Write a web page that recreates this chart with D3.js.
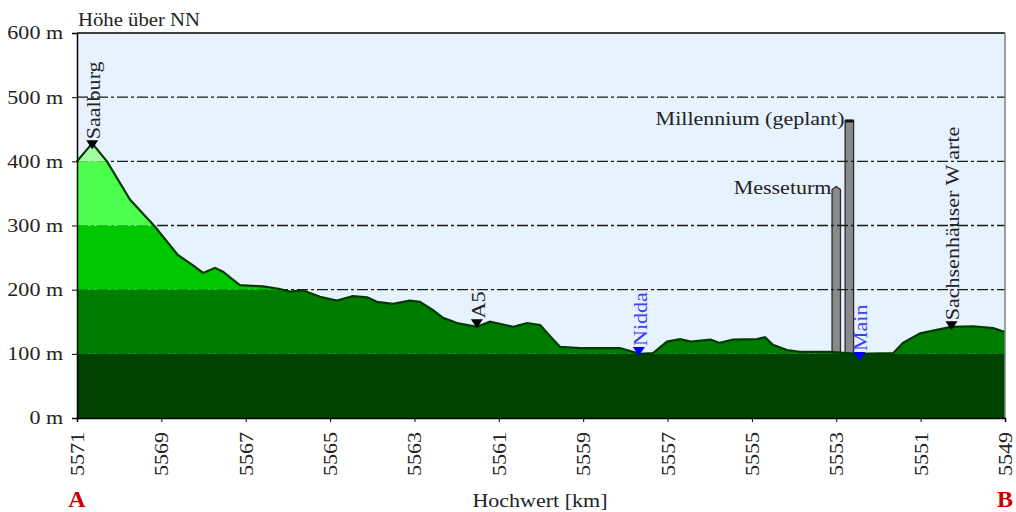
<!DOCTYPE html>
<html>
<head>
<meta charset="utf-8">
<script src="https://cdn.jsdelivr.net/npm/d3@7"></script>
<style>
  body { margin: 0; background: #fff; }
  svg text { font-family: "Liberation Serif", "Times New Roman", serif; }
</style>
</head>
<body>
<div id="chart"></div>
<script>
// Data read from the profile
const kmTicks = [5571, 5569, 5567, 5565, 5563, 5561, 5559, 5557, 5555, 5553, 5551, 5549];
const elevTicks = [0, 100, 200, 300, 400, 500, 600];
const gridElev = [100, 200, 300, 400, 500];
const bandFloors = [0, 100, 200, 300, 400];

const profileKm = [5571.00, 5570.64, 5570.29, 5569.74, 5569.15, 5568.61, 5568.25, 5568.01, 5567.73, 5567.54,
  5567.14, 5566.59, 5566.19, 5565.95, 5565.64, 5565.24, 5564.84, 5564.46, 5564.12, 5563.89,
  5563.51, 5563.11, 5562.87, 5562.56, 5562.32, 5561.99, 5561.52, 5561.21, 5560.66, 5560.33,
  5560.02, 5559.79, 5559.55, 5559.07, 5558.13, 5557.82, 5557.65, 5557.34, 5557.18, 5557.01,
  5556.70, 5556.45, 5555.98, 5555.76, 5555.45, 5554.88, 5554.69, 5554.50, 5554.17, 5553.86,
  5553.15, 5552.51, 5551.65, 5551.42, 5551.01, 5550.28, 5549.76, 5549.28, 5549.00];
const profileElev = [400, 428, 400, 340, 298, 254, 238, 226, 234, 228,
  207, 205, 201, 197, 199, 189, 183, 190, 188, 181,
  178, 183, 181, 168, 156, 148, 142, 150, 142, 148,
  145, 128, 111, 109, 109, 103, 100, 101, 110, 119,
  123, 119, 122, 117, 122, 123, 126, 114, 106, 103,
  103, 100, 101, 117, 132, 142, 143, 140, 134];

const markerNames = ["Saalburg", "A5", "Nidda", "Main", "Sachsenhäuser W arte"];
const markerKm = [5570.64, 5561.52, 5557.68, 5552.45, 5550.27];
const markerElev = [425, 146, 103, 95, 143];
const markerKind = ["ort", "ort", "fluss", "fluss", "ort"];

const towerNames = ["Messeturm", "Millennium (geplant)"];
const towerKm = [5553.0, 5552.69];
const towerTop = [356, 463];
const towerBase = 100;

function pageLoad() {

// Set the dimensions and margins of the graph
const margin = { top: 33, right: 11, bottom: 94, left: 77 };
const width = 1016 - margin.left - margin.right;
const height = 512 - margin.top - margin.bottom;

const fs = 18.5;   // font size
const k = 1.19;    // horizontal stretch of the text

function stretch(sel, f) {
  sel.each(function () {
    const w = this.getComputedTextLength();
    d3.select(this).attr("textLength", w * f).attr("lengthAdjust", "spacingAndGlyphs");
  });
}

const svg = d3.select("#chart")
  .append("svg")
    .attr("width", width + margin.left + margin.right)
    .attr("height", height + margin.top + margin.bottom)
  .append("g")
    .attr("transform", "translate(" + margin.left + "," + margin.top + ")");

const x = d3.scaleLinear().domain([5571, 5549]).range([0, width]);
const y = d3.scaleLinear().domain([0, 600]).range([height, 0]);

// sky
svg.append("rect")
  .attr("width", width).attr("height", height)
  .attr("fill", "#e6f2fe");

// towers
const tw = x(5571) - x(5570.8);
towerNames.forEach(function (name, i) {
  const xc = x(towerKm[i]);
  const yt = y(towerTop[i]);
  const yb = y(towerBase);
  let d;
  if (i === 0) {
    d = `M${xc - tw / 2},${yb} L${xc - tw / 2},${yt} L${xc},${yt - 3} L${xc + tw / 2},${yt} L${xc + tw / 2},${yb} Z`;
  } else {
    d = `M${xc - tw / 2},${yb} L${xc - tw / 2},${yt} L${xc + tw / 2},${yt} L${xc + tw / 2},${yb} Z`;
  }
  svg.append("path")
    .attr("d", d)
    .attr("fill", "#8a8a8a")
    .attr("stroke", "#2a2a2a")
    .attr("stroke-width", 1.3);
  if (i === 1) {
    svg.append("line")
      .attr("x1", xc - tw / 2).attr("x2", xc + tw / 2)
      .attr("y1", yt).attr("y2", yt)
      .attr("stroke", "#111").attr("stroke-width", 3);
  }
  const t = svg.append("text")
    .attr("x", xc - tw / 2 - 9)
    .attr("y", yt + 4)
    .attr("text-anchor", "end")
    .style("font-size", fs + "px")
    .attr("fill", "#222")
    .text(name);
  stretch(t, k);
});

// grid lines
svg.append("g")
  .selectAll("line")
  .data(gridElev)
  .join("line")
    .attr("x1", 0).attr("x2", width)
    .attr("y1", d => y(d)).attr("y2", d => y(d))
    .attr("stroke", "#1a1a1a")
    .attr("stroke-width", 1.4)
    .attr("stroke-dasharray", "11,3,3,3");

// terrain: clip the elevation bands with the area under the profile
const profile = profileKm.map((km, i) => ({ km: km, elev: profileElev[i] }));
const area = d3.area()
  .x(d => x(d.km))
  .y0(height)
  .y1(d => y(d.elev));

svg.append("defs")
  .append("clipPath")
    .attr("id", "terrain")
  .append("path")
    .datum(profile)
    .attr("d", area);

const bandColor = d3.scaleOrdinal()
  .domain(bandFloors)
  .range(["#004300", "#007d00", "#00c800", "#4cff4c", "#a2ffa2"]);

svg.append("g")
  .attr("clip-path", "url(#terrain)")
  .selectAll("rect")
  .data(bandFloors)
  .join("rect")
    .attr("x", 0)
    .attr("width", width)
    .attr("y", d => y(d + 100))
    .attr("height", d => y(d) - y(d + 100))
    .attr("fill", d => bandColor(d));

svg.append("path")
  .datum(profile)
  .attr("fill", "none")
  .attr("stroke", "#033a03")
  .attr("stroke-width", 2.2)
  .attr("d", d3.line().x(d => x(d.km)).y(d => y(d.elev)));

// markers
markerNames.forEach(function (name, i) {
  const mx = x(markerKm[i]);
  const my = y(markerElev[i]);
  const river = markerKind[i] === "fluss";
  svg.append("path")
    .attr("d", `M${mx - 6},${my - 5} L${mx + 6},${my - 5} L${mx},${my + 4} Z`)
    .attr("fill", river ? "#0000ff" : "#000");
  const t = svg.append("text")
    .attr("transform", `translate(${mx + 8},${my - 6}) rotate(-90)`)
    .style("font-size", fs + "px")
    .attr("fill", river ? "#3c3cff" : "#222")
    .text(name);
  stretch(t, k);
});

// frame
svg.append("line")
  .attr("x1", 0).attr("x2", width).attr("y1", 0).attr("y2", 0)
  .attr("stroke", "#000").attr("stroke-width", 1.5);
svg.append("line")
  .attr("x1", width).attr("x2", width).attr("y1", 0).attr("y2", height)
  .attr("stroke", "#808080").attr("stroke-width", 1.5);

// Y axis
const yAxis = svg.append("g")
  .call(d3.axisLeft(y).tickValues(elevTicks).tickFormat(d => d + " m").tickSize(5).tickPadding(9));
yAxis.select(".domain").attr("stroke", "#000").attr("stroke-width", 1.5);
yAxis.selectAll("text").style("font-size", fs + "px").attr("fill", "#222");
stretch(yAxis.selectAll("text"), k);

// X axis
const xAxis = svg.append("g")
  .attr("transform", "translate(0," + height + ")")
  .call(d3.axisBottom(x).tickValues(kmTicks).tickFormat(d3.format("d")).tickSize(4));
xAxis.select(".domain").attr("stroke", "#000").attr("stroke-width", 1.5);
xAxis.selectAll("text")
  .attr("transform", "rotate(-90)")
  .attr("text-anchor", "end")
  .attr("x", -14)
  .attr("y", 0)
  .attr("dy", "0.35em")
  .style("font-size", fs + "px")
  .attr("fill", "#222");
stretch(xAxis.selectAll("text"), k);

// titles
const t1 = svg.append("text")
  .attr("x", 1).attr("y", -7)
  .style("font-size", fs + "px")
  .attr("fill", "#222")
  .text("Höhe über NN");
stretch(t1, 1.12);

const t2 = svg.append("text")
  .attr("x", 463).attr("y", height + 89)
  .attr("text-anchor", "middle")
  .style("font-size", fs + "px")
  .attr("fill", "#222")
  .text("Hochwert [km]");
stretch(t2, k);

svg.append("text")
  .attr("x", 0).attr("y", height + 89)
  .attr("text-anchor", "middle")
  .style("font-size", "24px")
  .style("font-weight", "bold")
  .attr("fill", "#cc0000")
  .text("A");
svg.append("text")
  .attr("x", width).attr("y", height + 89)
  .attr("text-anchor", "middle")
  .style("font-size", "24px")
  .style("font-weight", "bold")
  .attr("fill", "#cc0000")
  .text("B");
}

window.addEventListener("load", pageLoad);
</script>
</body>
</html>
